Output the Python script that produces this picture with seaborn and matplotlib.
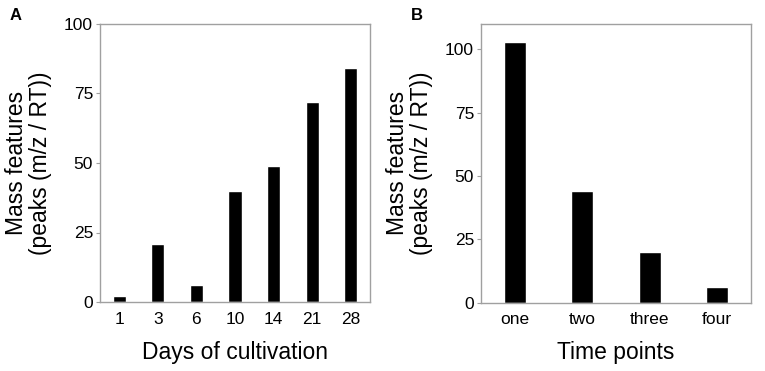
import matplotlib
matplotlib.use("Agg")
import matplotlib.pyplot as plt
import seaborn as sns
import pandas as pd

days = ["1", "3", "6", "10", "14", "21", "28"]
days_values = [2, 21, 6, 40, 49, 72, 84]
time_points = ["one", "two", "three", "four"]
time_values = [103, 44, 20, 6]

sns.set_style("white")
plt.rcParams["font.family"] = ["Liberation Sans", "DejaVu Sans"]
plt.rcParams["text.color"] = "black"
plt.rcParams["axes.labelcolor"] = "black"
plt.rcParams["xtick.color"] = "black"
plt.rcParams["ytick.color"] = "black"

fig = plt.figure(figsize=(7.65, 3.71), dpi=100)
W, H = 765, 371
axA = fig.add_axes([100 / W, 1 - 302 / H, 270 / W, 278 / H])
axB = fig.add_axes([481 / W, 1 - 302.7 / H, 270 / W, 278.7 / H])

dfA = pd.DataFrame({"day": days, "value": days_values})
dfB = pd.DataFrame({"tp": time_points, "value": time_values})

sns.barplot(data=dfA, x="day", y="value", color="black", width=0.34,
            saturation=1, ax=axA)
sns.barplot(data=dfB, x="tp", y="value", color="black", width=0.33,
            saturation=1, ax=axB)

axA.set_ylim(0, 100)
axA.set_yticks([0, 25, 50, 75, 100])
axA.set_xlim(-0.5, 6.5)
axB.set_ylim(0, 110)
axB.set_yticks([0, 25, 50, 75, 100])
axB.set_xlim(-0.5, 3.5)

for ax, xl in ((axA, "Days of cultivation"), (axB, "Time points")):
    for s in ax.spines.values():
        s.set_color("#a0a0a0")
        s.set_linewidth(1.0)
    ax.tick_params(axis="y", which="major", length=3, width=0.8,
                   color="#a0a0a0", labelcolor="black", labelsize=12.5,
                   pad=2, left=True)
    ax.tick_params(axis="x", length=0, labelsize=12.5, labelcolor="black",
                   pad=7)
    ax.set_xlabel(xl, fontsize=16.5, labelpad=10, color="black")
    ax.set_ylabel("Mass features\n(peaks (m/z / RT))", fontsize=16.5,
                  labelpad=9, linespacing=1.05, color="black")

fig.text(10 / W, 1 - 15 / H, "A", fontsize=12, fontweight="bold",
         va="center", ha="left")
fig.text(411 / W, 1 - 15 / H, "B", fontsize=12, fontweight="bold",
         va="center", ha="left")

fig.savefig("out.png", dpi=100)
